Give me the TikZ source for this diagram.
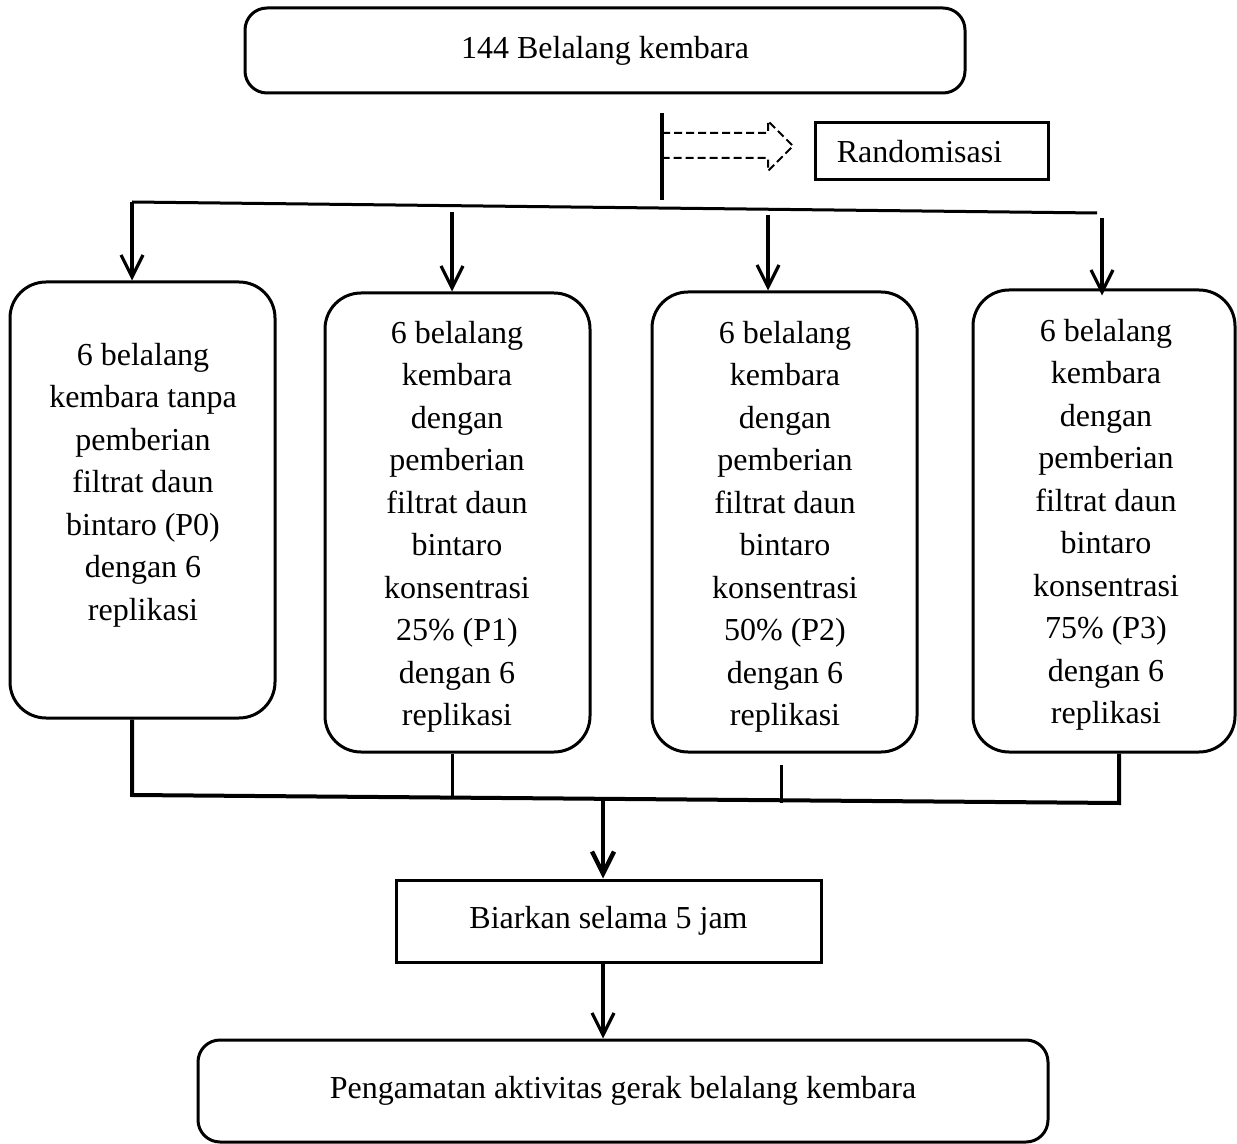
\documentclass[tikz,border=0pt]{standalone}
\usepackage{fontspec}
\setmainfont{Liberation Serif}
\usetikzlibrary{arrows.meta}
\begin{document}
\begin{tikzpicture}[x=0.5pt,y=-0.5pt,
  font=\fontsize{16}{21.25}\selectfont,
  rbox/.style={draw,line width=1.5pt,rounded corners=18pt,inner sep=0pt},
  tbox/.style={draw,line width=1.5pt,rounded corners=11pt,inner sep=0pt},
  sbox/.style={draw,line width=1.5pt,inner sep=0pt},
  txt/.style={align=center,inner sep=0pt},
  conn/.style={line width=1.5pt},
  arr/.style={line width=1.6pt,-{Straight Barb[length=11pt,width=11pt,line width=1.6pt]}}]
\useasboundingbox (0,0) rectangle (1237,1144);

% top
\node[tbox,minimum width=360pt,minimum height=42.5pt] (top) at (605,50.5) {144 Belalang kembara};
\node[sbox,minimum width=116.5pt,minimum height=28.5pt] (rand) at (931.5,151.5) {\hspace*{-12pt}Randomisasi};

\coordinate (r1) at (662,113);
\coordinate (r2) at (662,200);
\draw[line width=1.7pt] (r1) -- (r2);
\coordinate (d0) at (662,133);
\draw[line width=1pt,dash pattern=on 4pt off 2pt]
  (d0) -- (768,133) -- (768,121) -- (793,146) -- (768,171) -- (768,158) -- (662,158);

% boxes
\node[rbox,minimum width=132.5pt,minimum height=218pt] (p0) at (142.5,500) {};
\node[rbox,minimum width=132.5pt,minimum height=229.5pt] (p1) at (457.5,522.5) {};
\node[rbox,minimum width=132.5pt,minimum height=230pt] (p2) at (784.5,522) {};
\node[rbox,minimum width=131pt,minimum height=231pt] (p3) at (1104,521) {};

\node[txt] (t0) at (143,485) {6 belalang\\kembara tanpa\\pemberian\\filtrat daun\\bintaro (P0)\\dengan 6\\replikasi};
\node[txt] (t1) at (457,527) {6 belalang\\kembara\\dengan\\pemberian\\filtrat daun\\bintaro\\konsentrasi\\25\% (P1)\\dengan 6\\replikasi};
\node[txt] (t2) at (785,527) {6 belalang\\kembara\\dengan\\pemberian\\filtrat daun\\bintaro\\konsentrasi\\50\% (P2)\\dengan 6\\replikasi};
\node[txt] (t3) at (1106,525) {6 belalang\\kembara\\dengan\\pemberian\\filtrat daun\\bintaro\\konsentrasi\\75\% (P3)\\dengan 6\\replikasi};

% split
\coordinate (s0) at (132,202);
\coordinate (s4) at (1097,213);
\coordinate (a1) at (452,212);
\coordinate (a2) at (768,215);
\coordinate (a3) at (1102,218);
\draw[conn] (s4) -- (s0);
\draw[arr] (s0) -- (s0 |- p0.north);
\draw[arr] (a1) -- (a1 |- p1.north);
\draw[arr] (a2) -- (a2 |- p2.north);
\draw[arr] (a3) -- ([yshift=-3.5pt]a3 |- p3.north);

% merge
\coordinate (b0) at (132,795);
\coordinate (b1) at (452,797);
\coordinate (b2t) at (781,765);
\coordinate (b2) at (781,803);
\coordinate (b4) at (1119,803);
\coordinate (m) at (603,797);
\draw[line width=2pt] (b0 |- p0.south) -- (b0) -- (b4) -- (b4 |- p3.south);
\draw[conn] (b1 |- p1.south) -- (b1);
\draw[conn] (b2t) -- (b2);

\node[sbox,minimum width=212.5pt,minimum height=41pt] (bia) at (608.5,921) {Biarkan selama 5 jam};
\node[tbox,minimum width=425pt,minimum height=51pt] (peng) at (623,1091) {Pengamatan aktivitas gerak belalang kembara};

\draw[line width=2.2pt,-{Straight Barb[length=11pt,width=11pt,line width=2.2pt]}] (m) -- (m |- bia.north);
\draw[arr] (m |- bia.south) -- (m |- peng.north);
\end{tikzpicture}
\end{document}
